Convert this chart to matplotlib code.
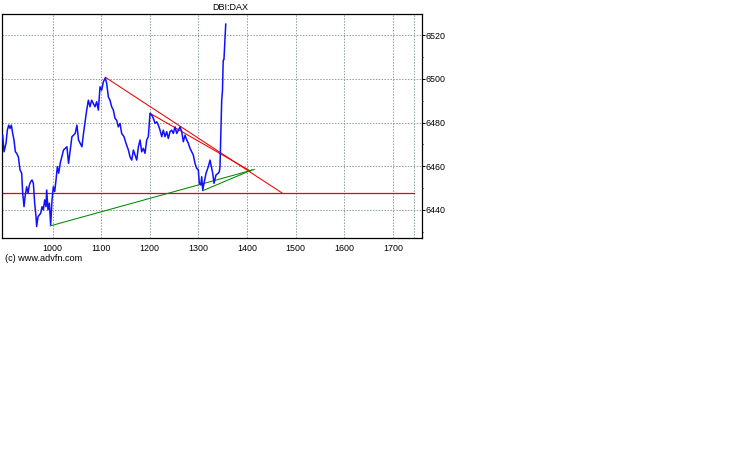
import matplotlib
matplotlib.use("Agg")
import matplotlib.pyplot as plt
from matplotlib.ticker import MultipleLocator

# ---- data ----
price_x = [897.5, 900.3, 904.4, 907.1, 909.9, 912.6, 915.3, 918.1, 920.8, 923.6,
           926.3, 929.7, 933.2, 936.6, 938.7, 941.4, 943.5, 946.9, 949.6, 952.4,
           955.1, 957.8, 960.6, 963.3, 966.1, 967.4, 970.2, 972.9, 975.7, 978.4,
           981.1, 983.9, 986.6, 988.0, 990.7, 993.5, 996.2, 999.0, 1001.7, 1004.5,
           1007.2, 1009.9, 1012.7, 1015.8, 1022.6, 1029.6, 1033.0, 1039.9, 1046.7, 1050.2,
           1053.5, 1060.5, 1063.7, 1070.3, 1073.7, 1077.1, 1080.5, 1084.0, 1087.4, 1090.8,
           1094.2, 1097.7, 1101.1, 1104.5, 1108.6, 1111.4, 1114.8, 1118.2, 1121.6, 1125.1,
           1128.5, 1131.9, 1135.3, 1138.8, 1142.2, 1147.0, 1151.1, 1156.0, 1159.4, 1162.9,
           1166.3, 1169.7, 1173.2, 1176.6, 1180.0, 1183.4, 1186.8, 1190.2, 1193.7, 1197.0,
           1200.5, 1204.0, 1207.4, 1210.8, 1214.3, 1217.6, 1221.1, 1224.6, 1227.8, 1231.3,
           1234.8, 1238.1, 1241.6, 1245.1, 1248.4, 1251.9, 1255.4, 1258.7, 1262.2, 1265.7,
           1269.0, 1272.5, 1276.0, 1279.3, 1282.7, 1289.5, 1293.0, 1296.5, 1299.8, 1301.9,
           1304.8, 1306.8, 1308.9, 1311.5, 1315.7, 1320.4, 1323.9, 1327.4, 1329.4, 1332.1,
           1336.2, 1340.9, 1343.0, 1344.4, 1345.9, 1347.9, 1349.5, 1351.0, 1352.5, 1356.2]
price_y = [6474.2, 6466.6, 6470.5, 6476.5, 6478.8, 6477.3, 6478.8, 6475.0, 6472.0, 6466.6,
           6465.9, 6464.3, 6458.3, 6456.8, 6447.6, 6441.5, 6446.1, 6450.6, 6447.6, 6451.4,
           6452.9, 6453.7, 6452.2, 6443.1, 6436.9, 6432.4, 6436.9, 6437.7, 6438.5, 6441.5,
           6440.0, 6444.6, 6441.5, 6449.1, 6440.0, 6443.1, 6433.2, 6444.6, 6450.6, 6448.4,
           6453.7, 6459.8, 6456.8, 6461.3, 6467.4, 6468.9, 6461.3, 6473.5, 6475.0, 6478.8,
           6472.0, 6468.9, 6475.0, 6485.7, 6490.2, 6487.2, 6490.2, 6488.7, 6487.2, 6489.5,
           6485.7, 6496.3, 6494.8, 6498.6, 6500.4, 6497.9, 6491.7, 6490.2, 6487.2, 6485.7,
           6481.9, 6481.0, 6478.0, 6479.6, 6475.0, 6473.5, 6470.5, 6467.4, 6464.3, 6462.8,
           6467.4, 6465.1, 6462.8, 6468.9, 6472.0, 6466.6, 6468.2, 6465.9, 6472.0, 6473.5,
           6484.2, 6483.4, 6481.9, 6479.6, 6480.3, 6478.8, 6476.5, 6473.5, 6476.5, 6473.5,
           6475.8, 6472.7, 6475.8, 6476.5, 6475.0, 6478.0, 6475.0, 6476.5, 6478.0, 6475.8,
           6471.2, 6474.2, 6472.0, 6470.5, 6468.2, 6465.1, 6461.3, 6459.0, 6458.3, 6452.2,
           6451.4, 6455.2, 6449.1, 6452.2, 6456.8, 6459.8, 6462.8, 6459.0, 6456.8, 6452.2,
           6456.0, 6456.8, 6457.5, 6459.8, 6473.5, 6490.2, 6494.6, 6508.5, 6508.7, 6525.0]

# trend lines: (x0, y0, x1, y1)
red_lines = [(1108.6, 6500.7, 1471.7, 6447.8),
             (1200.5, 6484.2, 1407.0, 6457.8)]
green_lines = [(995.3, 6432.7, 1414.8, 6458.5),
               (1308.9, 6448.8, 1410.0, 6458.3)]
support_level = 6447.7
support_end_x = 1744
extra_vgrid_x = 1744

x_ticks = [1000, 1100, 1200, 1300, 1400, 1500, 1600, 1700]
y_ticks = [6440, 6460, 6480, 6500, 6520]
x_limits = (895.5, 1760.4)
y_limits = (6427.3, 6529.5)

title_text = "DBI:DAX"
credit_text = "(c) www.advfn.com"

# ---- figure ----
plt.rcParams['font.family'] = ['Liberation Sans', 'DejaVu Sans']
W, H = 738, 475
fig = plt.figure(figsize=(W / 100, H / 100), dpi=100)
ax = fig.add_axes([1.7 / W, 1 - 237.7 / H, (422.3 - 1.7) / W, (237.7 - 14.3) / H])

ax.set_xlim(*x_limits)
ax.set_ylim(*y_limits)

grid_kw = dict(color='#8c9c9c', lw=0.7, ls=(0, (1.5, 1.5)), zorder=1)
for xv in x_ticks + [extra_vgrid_x]:
    ax.axvline(xv, **grid_kw)
for yv in y_ticks:
    ax.axhline(yv, **grid_kw)

ax.plot([x_limits[0], support_end_x], [support_level, support_level],
        color='#ee0000', lw=0.9, zorder=2)
for x0, y0, x1, y1 in red_lines:
    ax.plot([x0, x1], [y0, y1], color='#ee0000', lw=0.75, zorder=3)
for x0, y0, x1, y1 in green_lines:
    ax.plot([x0, x1], [y0, y1], color='#008800', lw=0.75, zorder=3)

ax.plot(price_x, price_y, color='#1010ff', lw=1.1, zorder=4)

ax.set_xticks(x_ticks)
ax.set_yticks(y_ticks)
ax.yaxis.set_minor_locator(MultipleLocator(10))
ax.yaxis.tick_right()
ax.tick_params(axis='x', length=0, pad=4.2, labelsize=6.4)
ax.tick_params(axis='y', which='major', length=1.8, width=0.7, pad=0.8, labelsize=6.4,
               direction='out')
ax.tick_params(axis='y', which='minor', length=1.0, width=0.7, direction='out')
for s in ax.spines.values():
    s.set_linewidth(0.9)
    s.set_color('black')

fig.text(230.5 / W, 1 - 8 / H, title_text, ha='center', va='center', fontsize=6.5)
fig.text(5 / W, 1 - 258.3 / H, credit_text, ha='left', va='center', fontsize=6.6)

fig.savefig("out.png", dpi=100)
